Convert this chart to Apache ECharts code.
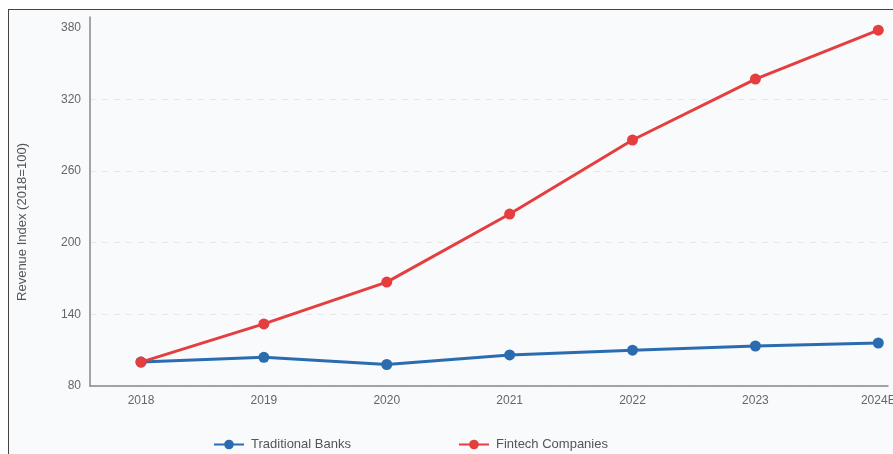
<!DOCTYPE html>
<html>
<head>
<meta charset="utf-8">
<script src="https://cdn.jsdelivr.net/npm/echarts@6/dist/echarts.min.js"></script>
<style>
  html, body { margin: 0; padding: 0; background: #ffffff; overflow: hidden; }
  #frame { position: absolute; left: 8px; top: 9px; width: 1000px; height: 600px; border: 1px solid #444; background: #f8fafc; }
  #chart { position: absolute; left: 0; top: 0; width: 893px; height: 454px; }
</style>
</head>
<body>
<div id="frame"></div>
<div id="chart"></div>
<script>
const categories = ['2018', '2019', '2020', '2021', '2022', '2023', '2024E'];
const traditionalBanks = [100, 104, 98, 106, 110, 113.5, 116];
const fintechCompanies = [100, 132, 167, 224, 286, 337, 378];
const yTicks = [80, 140, 200, 260, 320, 380];

const chart = echarts.init(document.getElementById('chart'), null, { renderer: 'canvas' });
const font = 'Liberation Sans, Arial, sans-serif';
const grid = 'rgba(0,0,0,0.07)';
const clear = 'rgba(0,0,0,0)';

chart.setOption({
  backgroundColor: 'transparent',
  textStyle: { fontFamily: font },
  animation: false,
  grid: { left: 90, top: 17, right: 5, bottom: 68, outerBoundsMode: 'none', containLabel: false },
  legend: {
    left: 208, top: 433,
    itemWidth: 30, itemHeight: 12, itemGap: 107,
    textStyle: { fontSize: 13, color: '#555', fontFamily: font, padding: [0, 0, 0, 2] },
    data: ['Traditional Banks', 'Fintech Companies']
  },
  xAxis: {
    type: 'value',
    min: -0.415, max: 6.079,
    minInterval: 1, maxInterval: 1,
    axisLine: { show: true, onZero: false, lineStyle: { color: '#888', width: 1.5 } },
    axisTick: { show: false },
    splitLine: { show: false },
    axisLabel: {
      show: true, fontSize: 12, color: '#666', margin: 9,
      showMinLabel: false, showMaxLabel: false, hideOverlap: false,
      formatter: v => (Number.isInteger(v) && categories[v] !== undefined) ? categories[v] : ''
    }
  },
  yAxis: {
    type: 'value',
    min: yTicks[0], max: 389, interval: yTicks[1] - yTicks[0],
    name: 'Revenue Index (2018=100)',
    nameLocation: 'middle', nameGap: 61,
    nameTextStyle: { fontSize: 13, color: '#555', padding: [0, 41, 0, 0] },
    axisLine: { show: true, onZero: false, lineStyle: { color: '#888', width: 1.5 } },
    axisTick: { show: false },
    axisLabel: { fontSize: 12, color: '#666', margin: 9, showMaxLabel: false },
    splitLine: {
      show: true, showMaxLine: false,
      lineStyle: { type: [6, 6], width: 1, color: [grid, grid, grid, grid, grid, clear, clear] }
    }
  },
  series: [
    {
      name: 'Traditional Banks', type: 'line',
      data: categories.map((c, i) => [i, traditionalBanks[i]]),
      symbol: 'circle', symbolSize: 11,
      lineStyle: { width: 3, color: '#2b6cb0' },
      itemStyle: { color: '#2b6cb0' }
    },
    {
      name: 'Fintech Companies', type: 'line',
      data: categories.map((c, i) => [i, fintechCompanies[i]]),
      symbol: 'circle', symbolSize: 11,
      lineStyle: { width: 3, color: '#e53e3e' },
      itemStyle: { color: '#e53e3e' }
    }
  ]
});
</script>
</body>
</html>
